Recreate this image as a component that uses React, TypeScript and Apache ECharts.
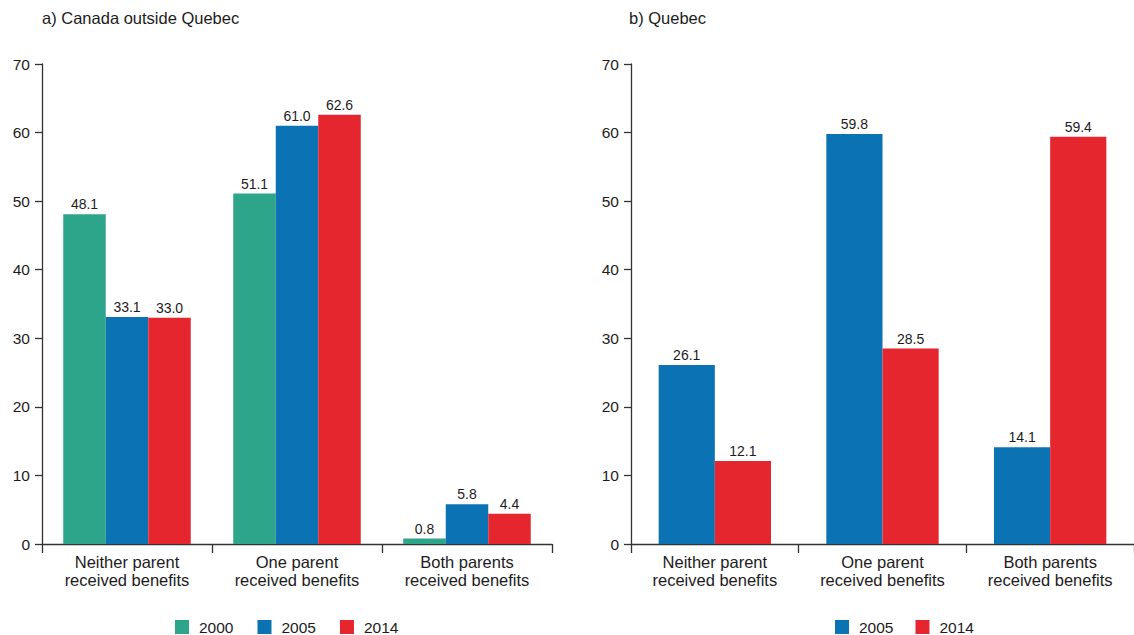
import React, { useEffect, useRef } from "react";
import * as echarts from "echarts";

// Categories shared by both panels
const categories = [
  "Neither parent\nreceived benefits",
  "One parent\nreceived benefits",
  "Both parents\nreceived benefits",
];

// a) Canada outside Quebec (%)
const rocYears = ["2000", "2005", "2014"];
const roc2000 = [48.1, 51.1, 0.8];
const roc2005 = [33.1, 61.0, 5.8];
const roc2014 = [33.0, 62.6, 4.4];

// b) Quebec (%)
const qcYears = ["2005", "2014"];
const qc2005 = [26.1, 59.8, 14.1];
const qc2014 = [12.1, 28.5, 59.4];

const yTicks = { min: 0, max: 70, interval: 10 };

const GREEN = "#2ca58a";
const BLUE = "#0b72b3";
const RED = "#e5262e";
const TEXT = "#1e1b1c";
const AXIS = "#333333";
const FONT = "'Liberation Sans', Arial, Helvetica, sans-serif";

function xAxis(gridIndex: number) {
  return {
    type: "category",
    gridIndex,
    data: categories,
    boundaryGap: true,
    axisLine: { show: true, lineStyle: { color: AXIS, width: 1.3 } },
    axisTick: { show: true, length: 9, lineStyle: { color: AXIS, width: 1.3 } },
    axisLabel: {
      interval: 0,
      margin: 9,
      color: TEXT,
      fontFamily: FONT,
      fontSize: 16.5,
      lineHeight: 18,
    },
    splitLine: { show: false },
  };
}

function yAxis(gridIndex: number) {
  return {
    type: "value",
    gridIndex,
    min: yTicks.min,
    max: yTicks.max,
    interval: yTicks.interval,
    axisLine: { show: true, lineStyle: { color: AXIS, width: 1.3 } },
    axisTick: { show: true, length: 7, lineStyle: { color: AXIS, width: 1.3 } },
    axisLabel: { margin: 12, color: TEXT, fontFamily: FONT, fontSize: 15.5 },
    splitLine: { show: false },
  };
}

function barSeries(
  name: string,
  data: number[],
  color: string,
  axisIndex: number,
  gap: string
) {
  return {
    type: "bar",
    name,
    data,
    xAxisIndex: axisIndex,
    yAxisIndex: axisIndex,
    barGap: "0%",
    barCategoryGap: gap,
    itemStyle: { color },
    label: {
      show: true,
      position: "top",
      distance: 3,
      color: TEXT,
      fontFamily: FONT,
      fontSize: 14,
      formatter: (p: any) => Number(p.value).toFixed(1),
    },
  };
}

export default function App() {
  const ref = useRef<HTMLDivElement>(null);

  useEffect(() => {
    document.body.style.margin = "0";
    if (!ref.current) return;
    const chart = echarts.init(ref.current, undefined, { renderer: "svg" });

    const legendBase = {
      orient: "horizontal",
      padding: 0,
      itemWidth: 14,
      itemHeight: 14,
      icon: "rect",
      textStyle: {
        color: TEXT,
        fontFamily: FONT,
        fontSize: 15.5,
        padding: [0, 0, 0, 5],
      },
      selectedMode: false,
    };

    const titleStyle = {
      color: TEXT,
      fontFamily: FONT,
      fontSize: 16.5,
      fontWeight: "normal",
    };

    chart.setOption({
      animation: false,
      backgroundColor: "#ffffff",
      textStyle: { fontFamily: FONT },
      title: [
        { text: "a) Canada outside Quebec", left: 42, top: 9, padding: 0, textStyle: titleStyle },
        { text: "b) Quebec", left: 629, top: 9, padding: 0, textStyle: titleStyle },
      ],
      legend: [
        { ...legendBase, data: rocYears, left: 175, top: 619, itemGap: 24 },
        { ...legendBase, data: qcYears, left: 835, top: 619, itemGap: 22 },
      ],
      grid: [
        { left: 42, top: 64, width: 510, height: 480 },
        { left: 631, top: 64, width: 510, height: 480 },
      ],
      xAxis: [xAxis(0), xAxis(1)],
      yAxis: [yAxis(0), yAxis(1)],
      series: [
        barSeries(rocYears[0], roc2000, GREEN, 0, "25%"),
        barSeries(rocYears[1], roc2005, BLUE, 0, "25%"),
        barSeries(rocYears[2], roc2014, RED, 0, "25%"),
        barSeries(qcYears[0], qc2005, BLUE, 1, "33%"),
        barSeries(qcYears[1], qc2014, RED, 1, "33%"),
      ],
    });

    return () => chart.dispose();
  }, []);

  return (
    <div
      ref={ref}
      style={{ position: "absolute", left: 0, top: 0, width: 1134, height: 635 }}
    />
  );
}
